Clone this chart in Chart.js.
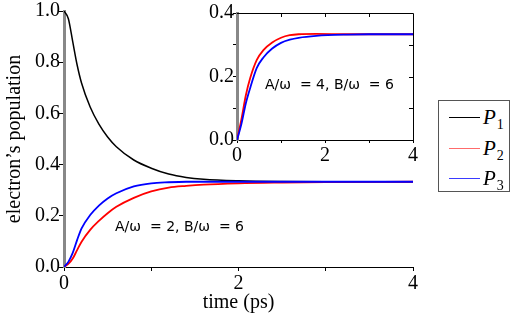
<!DOCTYPE html>
<html>
<head>
<meta charset="utf-8">
<script src="https://cdn.jsdelivr.net/npm/chart.js@4.4.1/dist/chart.umd.min.js"></script>
<style>
  html, body { margin: 0; padding: 0; background: #fff; }
  #wrap { position: relative; width: 513px; height: 319px; overflow: hidden; }
  #main { position: absolute; left: 0; top: 0; }
  #inset { position: absolute; left: 190px; top: 0; }
  #legend { position: absolute; left: 438px; top: 100px; width: 72px; height: 92px;
    border: 1px solid #555; box-sizing: border-box; background: #fff; }
  .row { position: absolute; left: 0; height: 24px; width: 72px; }
  .ln { position: absolute; left: 10px; top: 11px; width: 31px; height: 0; border-top: 1.5px solid; }
  .lb { position: absolute; left: 44px; top: 0; font: italic 21px "Liberation Serif", serif; line-height: 22px; color: #000; }
  .lb sub { font-style: normal; font-size: 14px; vertical-align: -5px; margin-left: 1px; }
</style>
</head>
<body>
<div id="wrap">
  <canvas id="main" width="513" height="319"></canvas>
  <canvas id="inset" width="230" height="170"></canvas>
  <div id="legend">
    <div class="row" style="top:5px"><span class="ln" style="border-color:#000"></span><span class="lb">P<sub>1</sub></span></div>
    <div class="row" style="top:36px"><span class="ln" style="border-color:#ff6b6b"></span><span class="lb">P<sub>2</sub></span></div>
    <div class="row" style="top:66px"><span class="ln" style="border-color:#3a3aff"></span><span class="lb">P<sub>3</sub></span></div>
  </div>
</div>
<script>
// main panel: A/w = 2, B/w = 6
const tMain = [0, 0.05, 0.1, 0.15, 0.2, 0.3, 0.4, 0.5, 0.6, 0.8, 1.0, 1.2, 1.4, 1.6, 2.0, 2.5, 3.0, 4.0];
const p1Main = [1.0, 0.97, 0.88, 0.79, 0.72, 0.625, 0.558, 0.508, 0.47, 0.418, 0.386, 0.363, 0.35, 0.343, 0.337, 0.334, 0.333, 0.333];
const p2Main = [0, 0.012, 0.033, 0.066, 0.098, 0.145, 0.18, 0.21, 0.235, 0.27, 0.295, 0.31, 0.317, 0.322, 0.327, 0.33, 0.332, 0.333];
const p3Main = [0, 0.02, 0.055, 0.105, 0.15, 0.203, 0.24, 0.268, 0.288, 0.315, 0.327, 0.331, 0.333, 0.333, 0.333, 0.333, 0.333, 0.333];

// inset: A/w = 4, B/w = 6
const tInset = [0, 0.1, 0.2, 0.3, 0.45, 0.6, 0.8, 1.0, 1.2, 1.4, 1.8, 2.5, 3.0, 4.0];
const p2Inset = [0, 0.065, 0.14, 0.195, 0.252, 0.283, 0.307, 0.322, 0.33, 0.333, 0.334, 0.333, 0.333, 0.333];
const p3Inset = [0, 0.05, 0.115, 0.164, 0.227, 0.26, 0.288, 0.306, 0.316, 0.322, 0.328, 0.332, 0.333, 0.333];

const mainNote = 'A/\u03c9  = 2, B/\u03c9  = 6';
const insetNote = 'A/\u03c9  = 4, B/\u03c9  = 6';

const serif = "'Liberation Serif', 'Times New Roman', serif";
Chart.defaults.font.family = serif;
Chart.defaults.font.size = 20;
Chart.defaults.color = '#000';

const pts = (ts, ys) => ts.map((t, i) => ({ x: t, y: ys[i] }));

function line(data, color, w) {
  return { data, borderColor: color, borderWidth: w, pointRadius: 0, fill: false, cubicInterpolationMode: 'monotone' };
}

// small text label in data coords
function notePlugin(text, x, y) {
  return {
    id: 'note',
    afterDatasetsDraw(chart) {
      const c = chart.ctx;
      c.save();
      c.font = "14px 'DejaVu Sans', sans-serif";
      c.fillStyle = '#000';
      c.textBaseline = 'middle';
      c.fillText(text, chart.scales.x.getPixelForValue(x), chart.scales.y.getPixelForValue(y));
      c.restore();
    }
  };
}

const evenLabel = (v, step) => (Math.round(v / step) % 2 === 0);

new Chart(document.getElementById('main'), {
  type: 'line',
  data: {
    datasets: [
      line(pts(tMain, p3Main), '#0000ff', 1.8),
      line(pts(tMain, p2Main), '#ff0000', 1.8),
      line(pts(tMain, p1Main), '#000000', 1.5)
    ]
  },
  options: {
    responsive: false, animation: false, devicePixelRatio: 1,
    layout: { padding: { left: 0, right: 100, top: 11, bottom: 0 } },
    plugins: { legend: { display: false }, tooltip: { enabled: false } },
    scales: {
      x: {
        type: 'linear', min: 0, max: 4,
        afterFit(s) { s.height = 52; },
        ticks: { stepSize: 1, color: '#000', padding: 1, maxRotation: 0,
          font: { family: serif, size: 20 },
          callback: v => evenLabel(v, 1) ? String(v) : '' },
        grid: { drawOnChartArea: false, color: '#000', tickLength: 4 },
        border: { color: '#000', width: 1 },
        title: { display: true, text: 'time (ps)', color: '#000', font: { family: serif, size: 20 }, padding: { top: 0, bottom: 4 } }
      },
      y: {
        min: 0, max: 1,
        afterFit(s) { s.width = 64; },
        ticks: { stepSize: 0.1, color: '#000', padding: -1,
          font: { family: serif, size: 20 },
          callback: v => evenLabel(v, 0.1) ? v.toFixed(1) : '' },
        grid: { drawOnChartArea: false, color: '#000', tickLength: 5 },
        border: { color: '#888', width: 3 },
        title: { display: true, text: 'electron\u2019s population', color: '#000', font: { family: serif, size: 20 }, padding: { top: 3, bottom: 0 } }
      }
    }
  },
  plugins: [notePlugin(mainNote, 0.585, 0.156)]
});

// box with inward ticks on the top and right side of the inset
const boxPlugin = {
  id: 'box',
  afterDraw(chart) {
    const a = chart.chartArea, c = chart.ctx, sx = chart.scales.x, sy = chart.scales.y;
    c.save();
    c.strokeStyle = '#000';
    c.lineWidth = 1;
    c.beginPath();
    c.moveTo(a.left, a.top + 0.5); c.lineTo(a.right + 0.5, a.top + 0.5); c.lineTo(a.right + 0.5, a.bottom);
    [1, 2, 3].forEach(v => { const px = Math.round(sx.getPixelForValue(v)) + 0.5; c.moveTo(px, a.top); c.lineTo(px, a.top + 4); });
    [0.1, 0.2, 0.3].forEach(v => { const py = Math.round(sy.getPixelForValue(v)) + 0.5; c.moveTo(a.right, py); c.lineTo(a.right - 4, py); });
    c.stroke();
    c.restore();
  }
};

new Chart(document.getElementById('inset'), {
  type: 'line',
  data: {
    datasets: [
      line(pts(tInset, p3Inset), '#0000ff', 1.8),
      line(pts(tInset, p2Inset), '#ff0000', 1.8)
    ]
  },
  options: {
    responsive: false, animation: false, devicePixelRatio: 1,
    layout: { padding: { left: 0, right: 7, top: 13, bottom: 0 } },
    plugins: { legend: { display: false }, tooltip: { enabled: false } },
    scales: {
      x: {
        type: 'linear', min: 0, max: 4,
        afterFit(s) { s.height = 30; },
        ticks: { stepSize: 1, color: '#000', padding: 1, maxRotation: 0,
          font: { family: serif, size: 20 },
          callback: v => evenLabel(v, 1) ? String(v) : '' },
        grid: { drawOnChartArea: false, color: '#000', tickLength: 3 },
        border: { color: '#000', width: 1 }
      },
      y: {
        min: 0, max: 0.4,
        afterFit(s) { s.width = 47; },
        ticks: { stepSize: 0.1, color: '#000', padding: -1,
          font: { family: serif, size: 20 },
          callback: v => evenLabel(v, 0.1) ? v.toFixed(1) : '' },
        grid: { drawOnChartArea: false, color: '#000', tickLength: 4 },
        border: { color: '#888', width: 3 }
      }
    }
  },
  plugins: [boxPlugin, notePlugin(insetNote, 0.636, 0.173)]
});
</script>
</body>
</html>
